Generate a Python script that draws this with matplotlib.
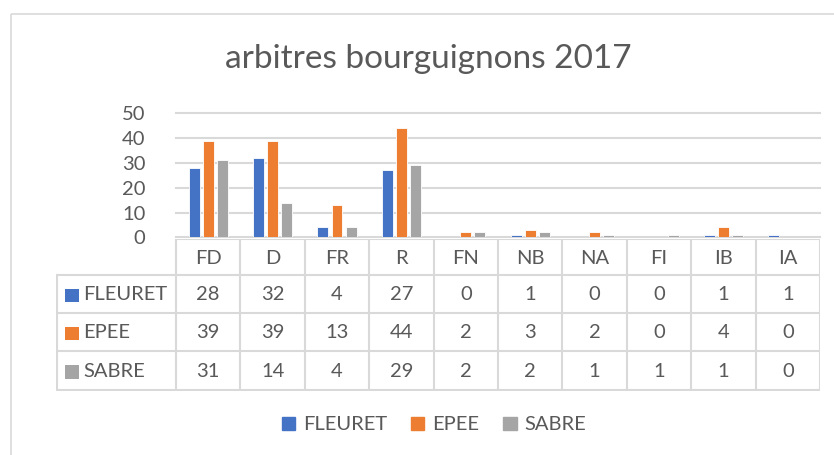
import matplotlib
matplotlib.use("Agg")
import matplotlib.pyplot as plt
from matplotlib.patches import Rectangle

plt.rcParams['font.family'] = ['Lato', 'DejaVu Sans']

categories = ["FD", "D", "FR", "R", "FN", "NB", "NA", "FI", "IB", "IA"]
series_names = ["FLEURET", "EPEE", "SABRE"]
fleuret = [28, 32, 4, 27, 0, 1, 0, 0, 1, 1]
epee = [39, 39, 13, 44, 2, 3, 2, 0, 4, 0]
sabre = [31, 14, 4, 29, 2, 2, 1, 1, 1, 0]
yticks = [0, 10, 20, 30, 40, 50]
title = "arbitres bourguignons 2017"

colors = ["#4472C4", "#ED7D31", "#A5A5A5"]
TXT = "#595959"
GRID = "#D9D9D9"
FS = 14.5

W, H = 834, 455
fig = plt.figure(figsize=(W / 100, H / 100), dpi=100)

def px_axes(left, top, right, bottom):
    return fig.add_axes([left / W, 1 - bottom / H, (right - left) / W, (bottom - top) / H])

# chart border
bg = px_axes(0, 0, W, H)
bg.set_xlim(0, W); bg.set_ylim(H, 0); bg.axis("off")
bg.add_patch(Rectangle((11, 14), 900, 500, fill=False, edgecolor=GRID, lw=1.2))

fig.text(428 / W, 1 - 59 / H, title, ha="center", va="center", fontsize=24, color=TXT)

# main axes
ax = px_axes(176, 113.3, 820, 237.3)
series = [fleuret, epee, sabre]
n = len(categories)
xs = list(range(n))
bw = 0.17
offs = [-0.22, 0.0, 0.22]
for vals, c, o in zip(series, colors, offs):
    ax.bar([x + o for x in xs], vals, width=bw, color=c, edgecolor="white", linewidth=0.6, zorder=3)
ax.set_xlim(-0.5, n - 0.5)
ax.set_ylim(0, 50)
ax.set_yticks(yticks)
ax.set_yticklabels([str(t) for t in yticks], fontsize=FS, color=TXT)
ax.tick_params(axis="y", length=0, pad=22)
ax.set_xticks([])
for s in ax.spines.values():
    s.set_visible(False)
ax.grid(axis="y", color=GRID, lw=1.5, zorder=0)
ax.set_axisbelow(True)
for gl in ax.get_ygridlines():
    gl.set_clip_on(False)

# data table
unit = 644 / n
x0 = -0.5 - 120 / unit
tb = px_axes(56, 239, 820, 391)
tb.set_xlim(x0, n - 0.5)
tb.set_ylim(391, 239)
tb.axis("off")
rows = [239, 275, 313, 351, 390]
lc = dict(color=GRID, lw=1.5, solid_capstyle="projecting")
left_edge = x0 + 0.01
tb.plot([-0.5, n - 0.5], [rows[0], rows[0]], **lc)
for r in rows[1:]:
    tb.plot([left_edge, n - 0.5], [r, r], **lc)
for i in range(n + 1):
    tb.plot([i - 0.5, i - 0.5], [rows[0], rows[-1]], **lc)
tb.plot([left_edge, left_edge], [rows[1], rows[-1]], **lc)

for i, cat in enumerate(categories):
    tb.text(i, (rows[0] + rows[1]) / 2 + 1, cat, ha="center", va="center", fontsize=FS, color=TXT)
for j, (name, vals, c) in enumerate(zip(series_names, series, colors)):
    yc = (rows[j + 1] + rows[j + 2]) / 2 + 1
    for i, v in enumerate(vals):
        tb.text(i, yc, str(v), ha="center", va="center", fontsize=FS, color=TXT)
    tb.add_patch(Rectangle((x0 + 9 / unit, yc - 6.5), 13.5 / unit, 13.5, color=c, lw=0))
    tb.text(x0 + 27 / unit, yc, name, fontsize=FS, color=TXT, ha="left", va="center")

# legend
handles = [Rectangle((0, 0), 1, 1, color=c) for c in colors]
fig.legend(handles, series_names, loc="center", bbox_to_anchor=(434 / W, 1 - 425 / H),
           ncol=3, frameon=False, fontsize=FS, labelcolor=TXT, handlelength=0.65,
           handleheight=0.65, handletextpad=0.4, columnspacing=1.2)

fig.savefig("out.png", dpi=100)
